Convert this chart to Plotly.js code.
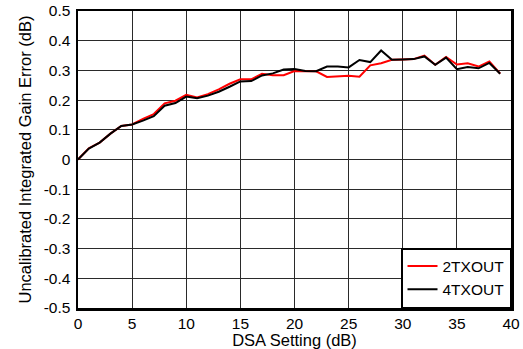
<!DOCTYPE html>
<html>
<head>
<meta charset="utf-8">
<script src="https://cdn.plot.ly/plotly-3.0.1.min.js"></script>
<style>html,body{margin:0;padding:0;background:#fff;}#chart{width:523px;height:349px;}</style>
</head>
<body>
<div id="chart"></div>
<script>
const dsaSetting = [0,1,2,3,4,5,6,7,8,9,10,11,12,13,14,15,16,17,18,19,20,21,22,23,24,25,26,27,28,29,30,31,32,33,34,35,36,37,38,39];
const tx2 = [0,0.038,0.057,0.087,0.113,0.118,0.137,0.153,0.189,0.198,0.218,0.209,0.22,0.236,0.255,0.27,0.27,0.289,0.284,0.284,0.298,0.298,0.297,0.278,0.281,0.282,0.279,0.317,0.324,0.336,0.337,0.338,0.35,0.319,0.345,0.32,0.324,0.313,0.33,0.289];
const tx4 = [0,0.037,0.057,0.087,0.113,0.118,0.131,0.146,0.181,0.19,0.212,0.206,0.215,0.228,0.245,0.263,0.264,0.283,0.29,0.303,0.305,0.298,0.297,0.313,0.313,0.31,0.335,0.328,0.367,0.336,0.337,0.338,0.347,0.319,0.343,0.304,0.311,0.307,0.325,0.289];
const seriesNames = ['2TXOUT','4TXOUT'];
const xTicks = [0,5,10,15,20,25,30,35,40];
const yTicks = [-0.5,-0.4,-0.3,-0.2,-0.1,0,0.1,0.2,0.3,0.4,0.5];
const yTickText = ['-0.5','-0.4','-0.3','-0.2','-0.1','0','0.1','0.2','0.3','0.4','0.5'];

const traces = [
  {x: dsaSetting, y: tx2, name: seriesNames[0], mode: 'lines', line: {color: '#ff0000', width: 2}},
  {x: dsaSetting, y: tx4, name: seriesNames[1], mode: 'lines', line: {color: '#000000', width: 2}}
];
const layout = {
  width: 523, height: 349,
  margin: {l: 78, r: 12, t: 11, b: 41},
  paper_bgcolor: '#fff', plot_bgcolor: '#fff',
  font: {family: 'Liberation Sans, Arial, sans-serif', color: '#000', size: 15.5},
  showlegend: true,
  legend: {x: 1, y: 0, xanchor: 'right', yanchor: 'bottom', bgcolor: '#fff',
    bordercolor: '#000', borderwidth: 1.5, font: {size: 15.5}, tracegroupgap: 0},
  xaxis: {range: [0, 40], tickvals: xTicks, ticktext: xTicks.map(String), showgrid: true,
    gridcolor: '#2a2a2a', gridwidth: 1, zeroline: false, showline: true, linecolor: '#000',
    linewidth: 2.5, mirror: true, ticks: '', tickfont: {size: 15.5}, automargin: false,
    title: {text: 'DSA Setting (dB)', font: {size: 16.5}, standoff: 0}},
  yaxis: {range: [-0.5, 0.5], tickvals: yTicks, ticktext: yTickText, showgrid: true,
    gridcolor: '#2a2a2a', gridwidth: 1, zeroline: false, showline: true, linecolor: '#000',
    linewidth: 2.5, mirror: true, ticks: '', tickfont: {size: 15.5}, automargin: false,
    ticklabelstandoff: 2,
    title: {text: 'Uncalibrated Integrated Gain Error (dB)', font: {size: 16.5}, standoff: 8}}
};
Plotly.newPlot('chart', traces, layout, {staticPlot: true, displayModeBar: false});
</script>
</body>
</html>
